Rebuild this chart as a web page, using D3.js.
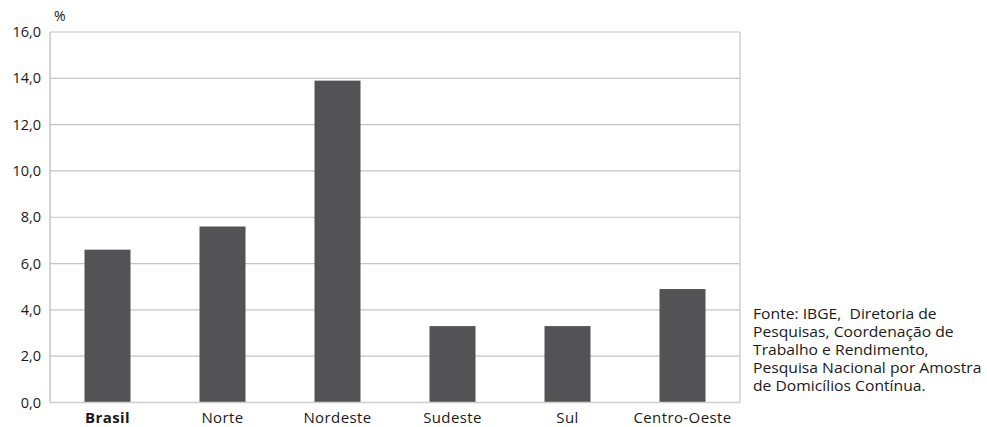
<!DOCTYPE html>
<html><head><meta charset="utf-8">
<script src="https://cdn.jsdelivr.net/npm/d3@7"></script>
<style>body{margin:0;background:#fff;} svg{display:block;font-family:"Open Sans","Noto Sans",sans-serif;}</style>
</head><body>
<svg id="c" width="987" height="427"></svg>
<script>
const categories = ["Brasil","Norte","Nordeste","Sudeste","Sul","Centro-Oeste"];
const values = [6.6, 7.6, 13.9, 3.3, 3.3, 4.9];
const yTicks = [0,2,4,6,8,10,12,14,16];
const sourceLines = ["Fonte: IBGE,  Diretoria de","Pesquisas, Coordenação de","Trabalho e Rendimento,","Pesquisa Nacional por Amostra","de Domicílios Contínua."];

const svg = d3.select("#c");
const L=50, R=740, T=32, B=402.5;
const x = d3.scaleBand().domain(categories).range([L,R]).paddingInner(0.6).paddingOuter(0.3);
const y = d3.scaleLinear().domain([0,16]).range([B,T]);
const fmt = v => d3.format(".1f")(v).replace(".",",");

svg.append("g").selectAll("line").data(yTicks.filter(d=>d>0)).join("line")
  .attr("x1",L).attr("x2",R).attr("y1",d=>y(d)).attr("y2",d=>y(d))
  .attr("stroke","#c4c4c4").attr("stroke-width",1.2);
svg.append("line").attr("x1",L).attr("x2",L).attr("y1",T).attr("y2",B).attr("stroke","#b8b8b8").attr("stroke-width",1.2);
svg.append("line").attr("x1",R).attr("x2",R).attr("y1",T).attr("y2",B).attr("stroke","#c4c4c4").attr("stroke-width",1.2);

svg.append("g").selectAll("rect").data(values).join("rect")
  .attr("x",(d,i)=>x(categories[i])).attr("width",x.bandwidth())
  .attr("y",d=>y(d)).attr("height",d=>B-y(d)).attr("fill","#535355");

svg.append("line").attr("x1",L).attr("x2",R).attr("y1",B).attr("y2",B).attr("stroke","#cfcfcf").attr("stroke-width",1.5);

const yAxis = d3.axisLeft(y).tickValues(yTicks).tickFormat(fmt).tickSize(0).tickPadding(9);
const ga = svg.append("g").attr("transform",`translate(${L},0)`).call(yAxis);
ga.select(".domain").remove();
ga.selectAll("text").attr("font-size",14.5).attr("fill","#1a1a1a").attr("font-family","'Open Sans',sans-serif");

const xAxis = d3.axisBottom(x).tickSize(0).tickPadding(0);
const gx = svg.append("g").attr("transform",`translate(0,${B})`).call(xAxis);
gx.select(".domain").remove();
gx.selectAll("text").attr("font-size",15).attr("fill","#1a1a1a").attr("font-family","'Open Sans',sans-serif")
  .attr("dy",null).attr("y",20.5).attr("letter-spacing",0.4)
  .attr("font-weight",d=>d==="Brasil"?"bold":"normal");

svg.append("text").attr("x",54).attr("y",21).attr("font-size",14).attr("fill","#1a1a1a").text("%");

svg.append("g").attr("transform","translate(753,0) scale(1.12,1)")
  .selectAll("text").data(sourceLines).join("text")
  .style("white-space","pre")
  .attr("x",0).attr("y",(d,i)=>319.5+i*17.9).attr("font-size",14).attr("fill","#1a1a1a").text(d=>d);
</script>
</body></html>
